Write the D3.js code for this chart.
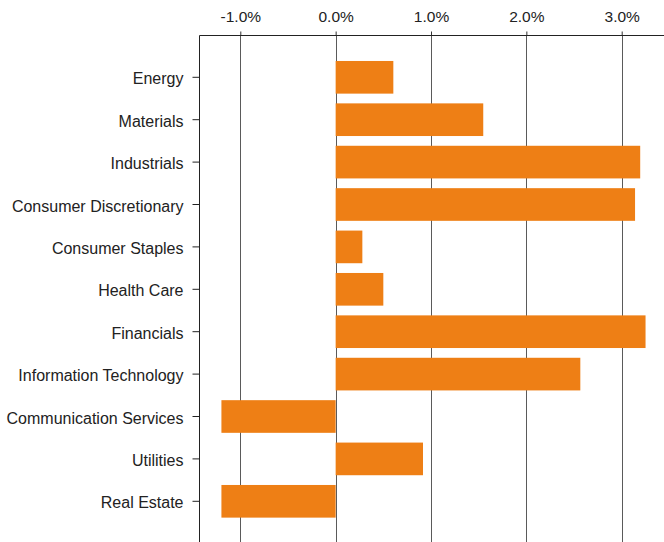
<!DOCTYPE html>
<html><head><meta charset="utf-8">
<script src="https://cdn.jsdelivr.net/npm/d3@7"></script>
<style>body{margin:0;background:#fff}svg{display:block}text{font-family:"Liberation Sans",Arial,sans-serif}</style>
</head><body><svg id="c" width="664" height="542"></svg>
<script>
const categories = ["Energy","Materials","Industrials","Consumer Discretionary","Consumer Staples","Health Care","Financials","Information Technology","Communication Services","Utilities","Real Estate"];
const values = [0.605, 1.548, 3.194, 3.14, 0.28, 0.50, 3.25, 2.566, -1.198, 0.916, -1.198];
const tickValues = [-1, 0, 1, 2, 3];

(function () {
const svg = d3.select("#c");
const x0 = 199.5, axisTopY = 35.5;
const x = d3.scaleLinear().domain([-1, 3]).range([240.3, 621.7]);
const y = d3.scaleBand().domain(categories).range([56.1, 522.5]).paddingInner(0.23).paddingOuter(0.115);

// grid lines
svg.append("g").selectAll("line").data(tickValues).join("line")
  .attr("x1", d => Math.round(x(d)) + 0.5).attr("x2", d => Math.round(x(d)) + 0.5)
  .attr("y1", axisTopY).attr("y2", 542)
  .attr("stroke", "#5a5a5a").attr("stroke-width", 1);

// bars
svg.append("g").selectAll("rect").data(values).join("rect")
  .attr("x", d => x(Math.min(0, d)))
  .attr("width", d => Math.abs(x(d) - x(0)))
  .attr("y", (d, i) => y(categories[i]))
  .attr("height", y.bandwidth())
  .attr("fill", "#ee7f15");

// top axis
const fmt = d => (d < 0 ? "-" : "") + Math.abs(d).toFixed(1) + "%";
const xa = svg.append("g").attr("transform", `translate(0,${axisTopY})`)
  .call(d3.axisTop(x).tickValues(tickValues).tickFormat(fmt).tickSizeOuter(0).tickSizeInner(4));
xa.select(".domain").remove();
xa.selectAll(".tick line").attr("stroke", "#333");
xa.selectAll("text").attr("font-size", 15.5).attr("fill", "#222").attr("dy", "-0.4em");
svg.append("line").attr("x1", x0).attr("x2", 664).attr("y1", axisTopY).attr("y2", axisTopY).attr("stroke", "#222");

// left axis
const ya = svg.append("g").attr("transform", `translate(${x0},0)`)
  .call(d3.axisLeft(y).tickSizeOuter(0).tickSizeInner(7).tickPadding(9));
ya.select(".domain").remove();
ya.selectAll(".tick line").attr("stroke", "#222");
ya.selectAll("text").attr("font-size", 16).attr("fill", "#222").attr("dy", "0.44em");
svg.append("line").attr("x1", x0).attr("x2", x0).attr("y1", axisTopY).attr("y2", 542).attr("stroke", "#222");
})();
</script></body></html>
